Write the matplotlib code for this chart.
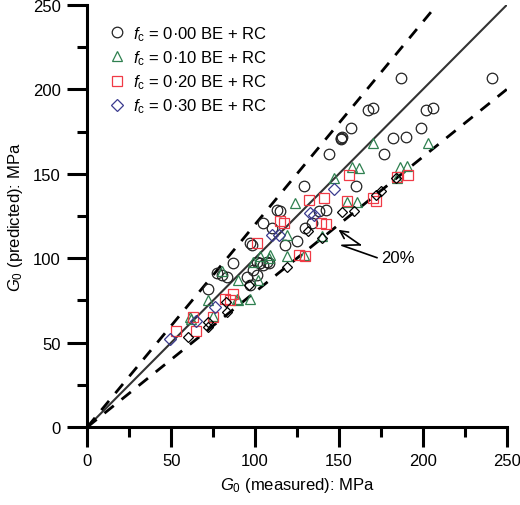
import matplotlib
matplotlib.use("Agg")
import matplotlib.pyplot as plt
from matplotlib.ticker import MultipleLocator

plt.rcParams['font.family'] = ['Liberation Sans', 'DejaVu Sans']
plt.rcParams['mathtext.fontset'] = 'custom'
plt.rcParams['mathtext.rm'] = 'Liberation Sans'
plt.rcParams['mathtext.it'] = 'Liberation Sans:italic'

# ---- data (MPa) ----
labels = ["$f_\\mathrm{c}$ = 0·00 BE + RC", "$f_\\mathrm{c}$ = 0·10 BE + RC",
          "$f_\\mathrm{c}$ = 0·20 BE + RC", "$f_\\mathrm{c}$ = 0·30 BE + RC"]

c00_x = [241, 187, 167, 170, 202, 206, 157, 152, 151, 199, 182, 190, 177, 144, 160, 151,
         129, 113, 115, 105, 138, 142, 130, 134, 110, 125, 97, 98, 118, 87, 101, 107, 105,
         99, 101, 95, 97, 77, 80, 83, 72, 103, 108]
c00_y = [207, 207, 188, 189, 188, 189, 177, 172, 171, 177, 171, 172, 161.5, 162, 143, 170.4,
         142.7, 128.8, 127.8, 120.8, 127.8, 128.8, 118, 121, 118, 110, 109, 108, 108, 97, 98, 98, 96,
         93, 90, 89, 84, 91, 90, 89, 82, 97, 97]

c10_x = [170, 203, 158, 162, 186.5, 190.5, 184.5, 147, 155, 161, 124, 119, 99, 108, 103,
         90, 102, 90, 97, 89.5, 72, 80, 61, 75, 62, 119, 109, 129, 140]
c10_y = [168, 168.5, 154, 153.5, 154, 154.5, 147.6, 147.6, 133.3, 133.3, 132.7, 113.9, 98, 100, 101,
         87, 87, 75, 76, 76, 75, 92.6, 65, 66, 64, 101, 102, 102, 113]

c20_x = [156, 191, 184.5, 155, 170, 172, 132, 141, 115, 117, 139, 142, 101, 126, 130,
         82, 87, 85, 63, 75, 53, 65]
c20_y = [149, 149, 148, 133.7, 135.7, 134, 134.7, 135.5, 121.8, 120.8, 120.8, 120.2, 109, 102, 101,
         76, 79, 75, 65, 65, 57, 57]

c30_x = [147, 133, 135, 110, 114, 76, 65, 49.3]
c30_y = [140.7, 127, 125.5, 114, 114, 71, 63, 52.4]

extra_x = [175, 172, 184, 151.7, 159, 131.8, 119, 96.6, 83, 82.7, 72.2, 72, 60.2, 140]
extra_y = [140, 137.6, 147.6, 127.2, 127.8, 115.9, 94.5, 84, 68.3, 74.2, 59.3, 62, 53.4, 112]

axis_max = 250
ratio_up = 1.2
ratio_lo = 0.8
band_label = "20%"
leader_x = [149.7, 162.6, 151.7, 172.6]
leader_y = [116.8, 107.9, 107.6, 100.3]
label_pos = (175.0, 100.3)

# ---- figure ----
fig = plt.figure(figsize=(5.2, 5.06), dpi=100)
ax = fig.add_axes([0.168, 0.1542, 0.8065, 0.834])

ax.plot([0, axis_max], [0, axis_max], color='#333333', lw=1.5, zorder=1)
ax.plot([0, axis_max / ratio_up], [0, axis_max], color='black', lw=2, dashes=(4.3, 3.6), zorder=1)
ax.plot([0, axis_max], [0, axis_max * ratio_lo], color='black', lw=2, dashes=(4.3, 3.6), zorder=1)

ax.plot(c00_x, c00_y, 'o', ms=7.6, mfc='none', mec='#222222', mew=0.9, label=labels[0], zorder=3)
ax.plot(c10_x, c10_y, '^', ms=7.6, mfc='none', mec='#2f8050', mew=0.9, label=labels[1], zorder=3)
ax.plot(c20_x, c20_y, 's', ms=6.8, mfc='none', mec='#f03a46', mew=0.9, label=labels[2], zorder=3)
ax.plot(c30_x, c30_y, 'D', ms=6.0, mfc='none', mec='#3a3a8e', mew=0.9, label=labels[3], zorder=3)
ax.plot(extra_x, extra_y, 'D', ms=5.6, mfc='none', mec='black', mew=0.9, zorder=3)

# leader for 20% band
ax.plot(leader_x[1:], leader_y[1:], color='black', lw=1.2, zorder=4)
ax.annotate('', xy=(leader_x[0], leader_y[0]), xytext=(leader_x[1], leader_y[1]),
            arrowprops=dict(arrowstyle='->', lw=1.2, color='black', mutation_scale=14,
                            shrinkA=0, shrinkB=0), zorder=4)
ax.text(label_pos[0], label_pos[1], band_label, fontsize=12, ha='left', va='center')

ax.set_xlim(0, axis_max)
ax.set_ylim(0, axis_max)
for s in ['top', 'right']:
    ax.spines[s].set_visible(False)
for s in ['left', 'bottom']:
    ax.spines[s].set_linewidth(2.2)
ax.xaxis.set_major_locator(MultipleLocator(50))
ax.yaxis.set_major_locator(MultipleLocator(50))
ax.xaxis.set_minor_locator(MultipleLocator(25))
ax.yaxis.set_minor_locator(MultipleLocator(25))
ax.tick_params(which='major', direction='out', length=14.5, width=2.2, labelsize=12, pad=4.5)
ax.tick_params(which='minor', direction='out', length=7, width=2.2)

ax.set_xlabel("$G_0$ (measured): MPa", fontsize=12, labelpad=5)
ax.set_ylabel("$G_0$ (predicted): MPa", fontsize=12, labelpad=6)

ax.legend(loc='upper left', bbox_to_anchor=(0.035, 0.97), frameon=False, fontsize=12,
          handlelength=1.0, handletextpad=0.45, labelspacing=0.32, borderaxespad=0)

fig.savefig('out.png', dpi=100)
